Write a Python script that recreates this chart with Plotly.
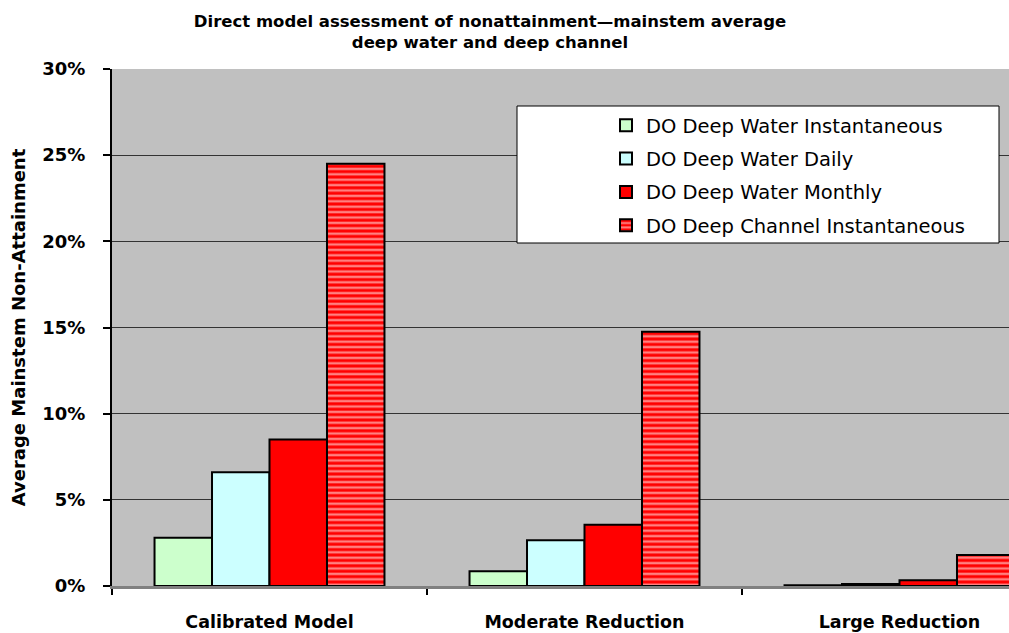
import plotly.graph_objects as go

categories = ["Calibrated Model", "Moderate Reduction", "Large Reduction"]
series_names = ["DO Deep Water Instantaneous", "DO Deep Water Daily",
                "DO Deep Water Monthly", "DO Deep Channel Instantaneous"]
dw_instantaneous = [2.8, 0.85, 0.05]
dw_daily = [6.6, 2.65, 0.12]
dw_monthly = [8.5, 3.55, 0.33]
dc_instantaneous = [24.5, 14.75, 1.8]
y_ticks = [0, 5, 10, 15, 20, 25, 30]
y_tick_labels = ["0%", "5%", "10%", "15%", "20%", "25%", "30%"]

W, H = 1009, 633
L, R, T, B = 112, 0, 69, 47
pw = W - L - R
ph = H - T - B

def px_x(x):
    return (x - L) / pw

def px_y(y):
    return (H - B - y) / ph

fig = go.Figure()
fills = ["#CCFFCC", "#CCFFFF", "#FF0000", "#FF0000"]
values = [dw_instantaneous, dw_daily, dw_monthly, dc_instantaneous]
for i, (name, vals, col) in enumerate(zip(series_names, values, fills)):
    marker = dict(color=col, line=dict(color="black", width=2))
    if i == 3:
        marker["pattern"] = dict(shape="-", fgcolor="white", bgcolor="#FF0000",
                                 size=5.4, solidity=0.45, fillmode="overlay")
    fig.add_trace(go.Bar(x=categories, y=vals, name=name, marker=marker,
                         legendgroup=f"g{i}"))

fig.add_shape(type="rect", xref="paper", yref="paper",
              x0=px_x(517), x1=px_x(999), y0=px_y(243), y1=px_y(106),
              fillcolor="white", line=dict(color="black", width=1), layer="above")

bold = dict(family="DejaVu Sans", color="black", weight="bold")

fig.update_layout(
    width=W, height=H,
    margin=dict(l=L, r=R, t=T, b=B),
    paper_bgcolor="white",
    plot_bgcolor="#C0C0C0",
    barmode="group",
    bargap=0.27,
    bargroupgap=0,
    font=dict(family="DejaVu Sans", color="black"),
    title=dict(text="Direct model assessment of nonattainment\u2014mainstem average<br>deep water and deep channel",
               x=490 / W, xanchor="center", y=1 - 27 / H, yanchor="middle",
               font=dict(size=16.5, **bold)),
    legend=dict(x=px_x(606), xanchor="left", y=px_y(106), yanchor="top",
                bgcolor="rgba(0,0,0,0)", borderwidth=0,
                font=dict(family="DejaVu Sans", size=19.5, color="black"),
                traceorder="grouped", tracegroupgap=5),
    xaxis=dict(range=[-0.5, -0.5 + pw / 315.0], tickson="boundaries",
               ticks="outside", ticklen=6, tickwidth=2, tickcolor="black",
               showline=True, linecolor="#808080", linewidth=3,
               showgrid=False, ticklabelstandoff=18,
               tickfont=dict(size=17.5, **bold)),
    yaxis=dict(range=[0, 30], tickvals=y_ticks, ticktext=y_tick_labels,
               ticks="outside", ticklen=7, tickwidth=2, tickcolor="black",
               showline=True, linecolor="black", linewidth=2,
               showgrid=True, gridcolor="#333333", gridwidth=1,
               zeroline=False, ticklabelstandoff=14,
               tickfont=dict(size=18, **bold),
               title=dict(text="Average Mainstem Non-Attainment", standoff=12,
                          font=dict(size=18, **bold))),
)

fig.write_html("out.html", config={"displayModeBar": False},
               post_script="document.body.style.margin='0px';")
